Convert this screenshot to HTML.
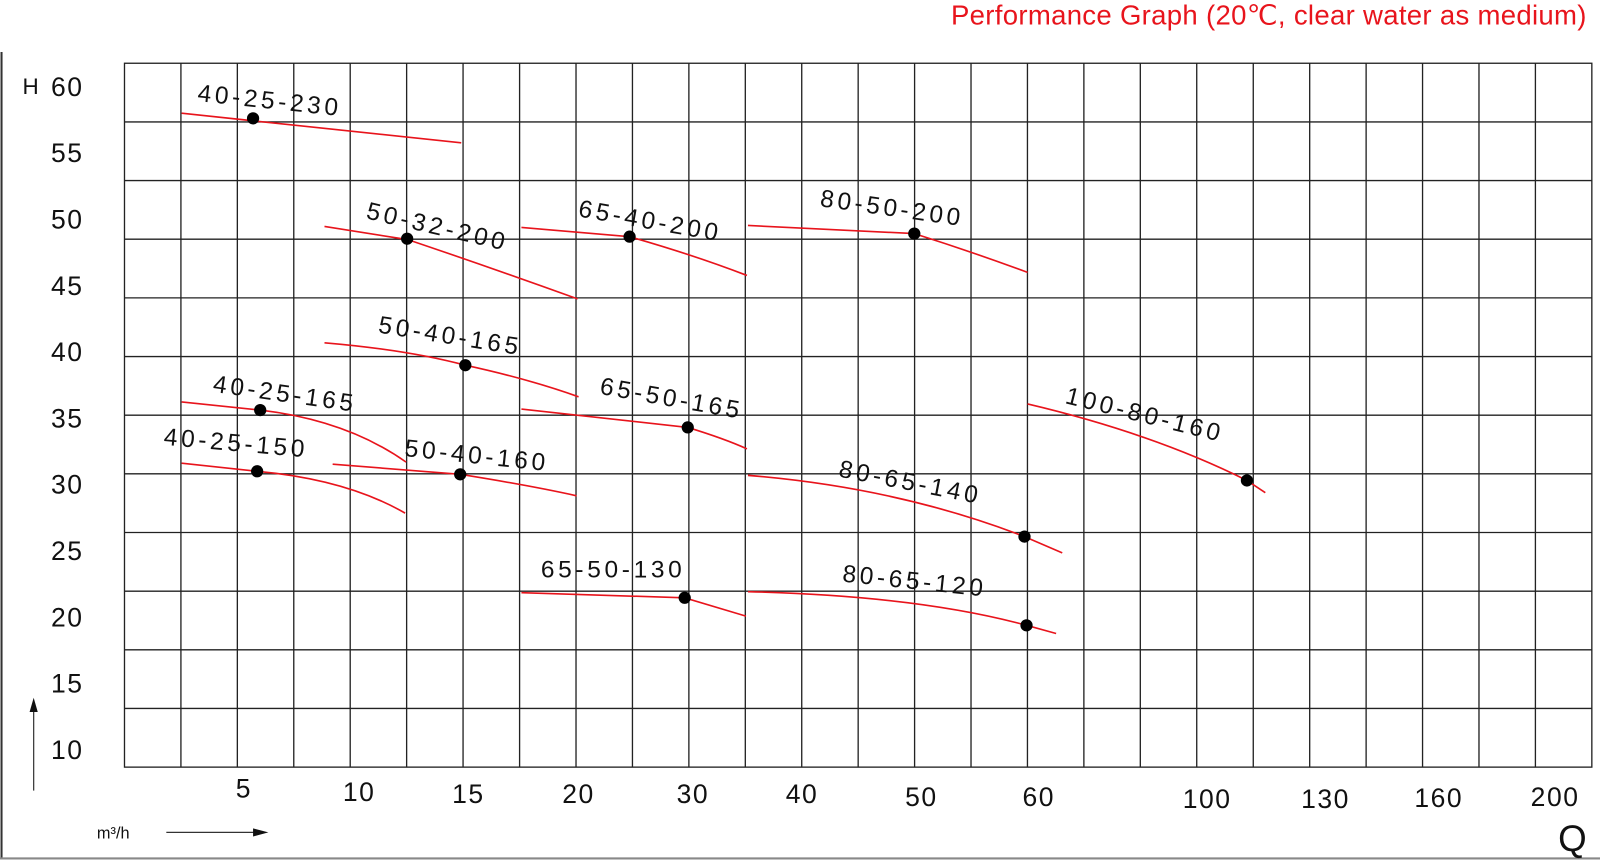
<!DOCTYPE html>
<html><head><meta charset="utf-8"><style>
html,body{margin:0;padding:0;background:#fff;}
svg{display:block}
text{font-family:"Liberation Sans",sans-serif;fill:#111}
.lb{font-size:24px;letter-spacing:3.6px}
.ax{font-size:26px;letter-spacing:1.5px}
</style></head><body>
<svg width="1600" height="862" viewBox="0 0 1568 845" preserveAspectRatio="none" xmlns="http://www.w3.org/2000/svg">
<rect width="1568" height="845" fill="#fff"/>
<line x1="1.5" y1="51" x2="1.5" y2="842" stroke="#333" stroke-width="2"/>
<line x1="0" y1="841.5" x2="1568" y2="841.5" stroke="#888" stroke-width="2"/>
<g stroke="#222" stroke-width="1.3" fill="none">
<rect x="122" y="62" width="1438" height="690"/>
<path d="M177.3 62V752M232.6 62V752M287.9 62V752M343.2 62V752M398.5 62V752M453.8 62V752M509.2 62V752M564.5 62V752M619.8 62V752M675.1 62V752M730.4 62V752M785.7 62V752M841 62V752M896.3 62V752M951.6 62V752M1006.9 62V752M1062.2 62V752M1117.5 62V752M1172.8 62V752M1228.2 62V752M1283.5 62V752M1338.8 62V752M1394.1 62V752M1449.4 62V752M1504.7 62V752"/>
<path d="M122 119.5H1560M122 177H1560M122 234.5H1560M122 292H1560M122 349.5H1560M122 407H1560M122 464.5H1560M122 522H1560M122 579.5H1560M122 637H1560M122 694.5H1560"/>
</g>
<g stroke="#e8141c" stroke-width="1.6" fill="none">
<path d="M178 111 L452 140"/>
<path d="M318 222 L400 235 Q480 262 566 293"/>
<path d="M511 223 L617 232 Q680 250 732 270"/>
<path d="M733 221 L896 229 Q950 246 1007 267"/>
<path d="M318 336 Q400 343 456 358 Q520 372 567 389"/>
<path d="M178 394 L255 402 Q340 412 398 453"/>
<path d="M178 454 L252 462 Q340 470 397 503"/>
<path d="M326 455 L451 465 Q520 476 565 486"/>
<path d="M511 401 L674 419 Q710 430 732 440"/>
<path d="M1007 396 Q1130 425 1222 471 L1240 483"/>
<path d="M733 466 Q880 478 1004 526 L1041 542"/>
<path d="M511 581 L671 586 L731 604"/>
<path d="M733 580 Q900 584 1006 613 L1035 621"/>
</g>
<g fill="#000">
<circle cx="248" cy="116" r="6"/><circle cx="399" cy="234" r="6"/><circle cx="617" cy="232" r="6"/>
<circle cx="896" cy="229" r="6"/><circle cx="456" cy="358" r="6"/><circle cx="255" cy="402" r="6"/>
<circle cx="252" cy="462" r="6"/><circle cx="451" cy="465" r="6"/><circle cx="674" cy="419" r="6"/>
<circle cx="1222" cy="471" r="6"/><circle cx="1004" cy="526" r="6"/><circle cx="671" cy="586" r="6"/>
<circle cx="1006" cy="613" r="6"/>
</g>
<g class="lb">
<text transform="translate(193,99) rotate(6)">40-25-230</text>
<text transform="translate(358,214) rotate(13)">50-32-200</text>
<text transform="translate(566,212) rotate(10)">65-40-200</text>
<text transform="translate(803,202) rotate(8)">80-50-200</text>
<text transform="translate(370,326) rotate(9)">50-40-165</text>
<text transform="translate(208,384) rotate(8)">40-25-165</text>
<text transform="translate(160,436) rotate(5)">40-25-150</text>
<text transform="translate(396,447) rotate(6)">50-40-160</text>
<text transform="translate(587,386) rotate(10)">65-50-165</text>
<text transform="translate(1043,395) rotate(14)">100-80-160</text>
<text transform="translate(821,467) rotate(11)">80-65-140</text>
<text transform="translate(530,566)">65-50-130</text>
<text transform="translate(825,570) rotate(6)">80-65-120</text>
</g>
<g class="ax">
<text x="22" y="92" style="font-size:22px">H</text>
<text x="50" y="94">60</text><text x="50" y="159">55</text><text x="50" y="224">50</text>
<text x="50" y="289">45</text><text x="50" y="354">40</text><text x="50" y="419">35</text>
<text x="50" y="484">30</text><text x="50" y="549">25</text><text x="50" y="614">20</text>
<text x="50" y="679">15</text><text x="50" y="744">10</text>
</g>
<g class="ax" text-anchor="middle">
<text x="239" y="782">5</text><text x="352" y="785">10</text><text x="459" y="787">15</text>
<text x="567" y="787">20</text><text x="679" y="787">30</text><text x="786" y="787">40</text>
<text x="903" y="790">50</text><text x="1018" y="790">60</text><text x="1183" y="792">100</text>
<text x="1299" y="792">130</text><text x="1410" y="791">160</text><text x="1524" y="790">200</text>
</g>
<line x1="33" y1="775" x2="33" y2="695" stroke="#333" stroke-width="1.2"/>
<path d="M29 698 L33 684 L37 698Z" fill="#111"/>
<line x1="163" y1="816" x2="250" y2="816" stroke="#333" stroke-width="1.2"/>
<path d="M248 812 L263 816 L248 820Z" fill="#111"/>
<text x="95" y="822" style="font-size:16px">m³/h</text>
<text x="1527" y="834" style="font-size:36px">Q</text>
<text x="1555" y="24" text-anchor="end" style="font-size:27px;letter-spacing:0.3px;fill:#e8141c">Performance Graph (20℃, clear water as medium)</text>
</svg>
</body></html>
